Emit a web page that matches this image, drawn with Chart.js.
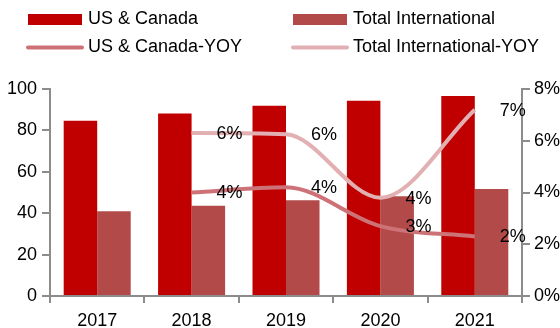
<!DOCTYPE html>
<html>
<head>
<meta charset="utf-8">
<script src="https://cdn.jsdelivr.net/npm/chart.js@4.4.1/dist/chart.umd.min.js"></script>
<style>
  html, body { margin: 0; padding: 0; background: #fff; }
  #wrap { position: relative; width: 560px; height: 328px; }
</style>
</head>
<body>
<div id="wrap"><canvas id="chart" width="560" height="328"></canvas></div>
<script>
// Années et séries
const years = ['2017', '2018', '2019', '2020', '2021'];
const usCanada = [84.7, 88.2, 91.9, 94.3, 96.6];
const totalIntl = [40.9, 43.6, 46.2, 48.2, 51.7];
const usCanadaYoy = [null, 4.0, 4.2, 2.7, 2.3];
const totalIntlYoy = [null, 6.3, 6.25, 3.8, 7.2];

// Axes
const leftTicks = [0, 20, 40, 60, 80, 100];
const rightTicks = [0, 2, 4, 6, 8];

const FONT = 'Liberation Sans, Arial, sans-serif';
const AXIS_GREY = '#8c8c8c';

// Étiquettes % à droite de chaque point des courbes
const lineLabels = {
  id: 'lineLabels',
  afterDatasetsDraw(chart) {
    const ctx = chart.ctx;
    ctx.save();
    ctx.font = '18px ' + FONT;
    ctx.fillStyle = '#000';
    ctx.textAlign = 'center';
    ctx.textBaseline = 'middle';
    chart.data.datasets.forEach((ds, i) => {
      if (ds.type !== 'line') return;
      chart.getDatasetMeta(i).data.forEach((pt, j) => {
        const v = ds.data[j];
        if (v === null) return;
        ctx.fillText(Math.round(v) + '%', pt.x + 38, pt.y + 1);
      });
    });
    ctx.restore();
  }
};

// Légende sur deux lignes / deux colonnes
const legendBox = {
  id: 'legendBox',
  afterDraw(chart) {
    const ctx = chart.ctx;
    const cols = [28, 293];
    const rows = [19.5, 47.5];
    ctx.save();
    ctx.font = '18px ' + FONT;
    ctx.textBaseline = 'middle';
    ctx.fillStyle = '#000';
    chart.data.datasets.forEach((ds, i) => {
      const x = cols[i % 2];
      const y = rows[Math.floor(i / 2)];
      if (ds.type === 'line') {
        ctx.strokeStyle = ds.borderColor;
        ctx.lineWidth = 4;
        ctx.lineCap = 'round';
        ctx.beginPath();
        ctx.moveTo(x, y);
        ctx.lineTo(x + 54, y);
        ctx.stroke();
      } else {
        ctx.fillStyle = ds.backgroundColor;
        ctx.fillRect(x, y - 5.5, 54, 11);
      }
      ctx.fillStyle = '#000';
      ctx.fillText(ds.label, x + 60, y);
    });
    ctx.restore();
  }
};

const ctx = document.getElementById('chart').getContext('2d');
new Chart(ctx, {
  data: {
    labels: years,
    datasets: [
      { type: 'bar', label: 'US & Canada', data: usCanada, backgroundColor: '#c00000', yAxisID: 'y', order: 2 },
      { type: 'bar', label: 'Total International', data: totalIntl, backgroundColor: '#b34a4a', yAxisID: 'y', order: 2 },
      { type: 'line', label: 'US & Canada-YOY', data: usCanadaYoy, borderColor: '#cd7378', borderWidth: 4,
        cubicInterpolationMode: 'monotone', pointRadius: 0, fill: false, yAxisID: 'y1', order: 1 },
      { type: 'line', label: 'Total International-YOY', data: totalIntlYoy, borderColor: '#e2b0b3', borderWidth: 4,
        cubicInterpolationMode: 'monotone', pointRadius: 0, fill: false, yAxisID: 'y1', order: 1 }
    ]
  },
  options: {
    responsive: false,
    animation: false,
    layout: { padding: { top: 89, left: 0, right: 0, bottom: 0 } },
    datasets: { bar: { categoryPercentage: 0.71, barPercentage: 1 } },
    plugins: { legend: { display: false }, tooltip: { enabled: false } },
    scales: {
      x: {
        grid: { drawOnChartArea: false, tickLength: 7, color: AXIS_GREY, lineWidth: 2, offset: true },
        border: { color: AXIS_GREY, width: 2 },
        ticks: { color: '#000', font: { family: FONT, size: 18 }, padding: 7, maxRotation: 0 },
        afterFit(scale) { scale.height = 32; }
      },
      y: {
        position: 'left',
        min: 0, max: 100,
        afterBuildTicks(scale) { scale.ticks = leftTicks.map(v => ({ value: v })); },
        grid: { drawOnChartArea: false, tickLength: 8, color: AXIS_GREY, lineWidth: 2 },
        border: { color: AXIS_GREY, width: 2 },
        ticks: { color: '#000', font: { family: FONT, size: 18 }, padding: 5 },
        afterFit(scale) { scale.width = 50; }
      },
      y1: {
        position: 'right',
        min: 0, max: 8,
        afterBuildTicks(scale) { scale.ticks = rightTicks.map(v => ({ value: v })); },
        grid: { drawOnChartArea: false, tickLength: 8, color: AXIS_GREY, lineWidth: 2 },
        border: { color: AXIS_GREY, width: 2 },
        ticks: { color: '#000', font: { family: FONT, size: 18 }, padding: 4, callback: v => v + '%' },
        afterFit(scale) { scale.width = 38; }
      }
    }
  },
  plugins: [lineLabels, legendBox]
});
</script>
</body>
</html>
